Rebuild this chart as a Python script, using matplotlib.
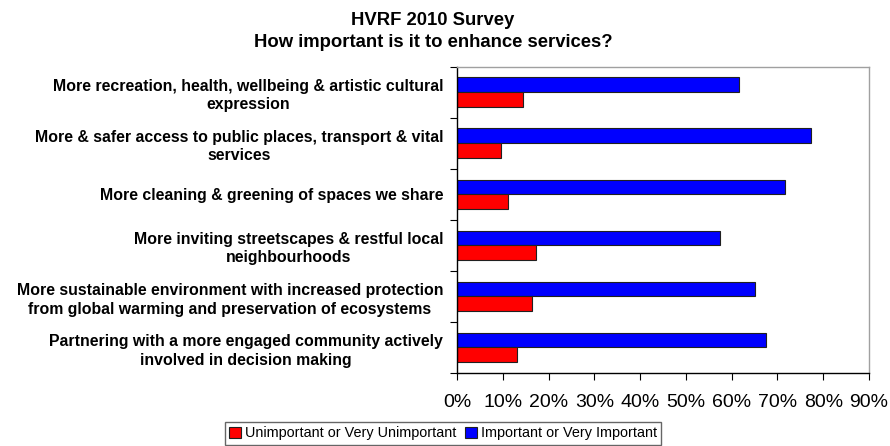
import matplotlib.pyplot as plt
import numpy as np

plt.rcParams['font.family'] = ['Liberation Sans', 'DejaVu Sans']

# survey results, top to bottom
categories = [
    "More recreation, health, wellbeing & artistic cultural\nexpression",
    "More & safer access to public places, transport & vital\nservices",
    "More cleaning & greening of spaces we share",
    "More inviting streetscapes & restful local\nneighbourhoods",
    "More sustainable environment with increased protection\nfrom global warming and preservation of ecosystems",
    "Partnering with a more engaged community actively\ninvolved in decision making",
]
important = [61.7, 77.3, 71.6, 57.5, 65.1, 67.5]
unimportant = [14.4, 9.5, 11.1, 17.3, 16.4, 13.1]
xticks = [0, 10, 20, 30, 40, 50, 60, 70, 80, 90]

fig = plt.figure(figsize=(8.9, 4.46), dpi=100)
ax = fig.add_axes([0.5135, 0.1637, 0.4629, 0.6868])

y = np.arange(len(categories))
h = 0.29
ax.barh(y - h / 2, important, height=h, color='#0000ff', edgecolor='#202020',
        linewidth=0.8, label='Important or Very Important')
ax.barh(y + h / 2, unimportant, height=h, color='#ff0000', edgecolor='#202020',
        linewidth=0.8, label='Unimportant or Very Unimportant')

ax.set_ylim(len(categories) - 0.5, -0.5)
ax.set_xlim(0, 90)

ax.set_yticks(y)
ax.set_yticklabels(categories, fontsize=11.4, fontweight='bold',
                   multialignment='center', linespacing=1.3)
ax.set_yticks(np.arange(len(categories) + 1) - 0.5, minor=True)
ax.tick_params(axis='y', which='major', length=0, pad=10)
ax.tick_params(axis='y', which='minor', length=5, width=0.8, direction='out')

ax.set_xticks(xticks)
ax.set_xticklabels([f"{v}%" for v in xticks], fontsize=14)
ax.tick_params(axis='x', length=5, width=0.8, direction='out', pad=10)

ax.spines['left'].set_color('black')
ax.spines['bottom'].set_color('black')
ax.spines['top'].set_color('#a0a0a0')
ax.spines['right'].set_color('#a0a0a0')
for s in ax.spines.values():
    s.set_linewidth(1.0)

fig.text(0.4865, 0.929, "HVRF 2010 Survey\nHow important is it to enhance services?",
         ha='center', va='center', fontsize=13.3, fontweight='bold', linespacing=1.35)

handles, labels = ax.get_legend_handles_labels()
leg = fig.legend(handles[::-1], labels[::-1], loc='upper center',
                 bbox_to_anchor=(443 / 890, 1 - 422 / 446), ncol=2, fontsize=10.4,
                 frameon=True, fancybox=False, handlelength=0.8, handleheight=0.8,
                 handletextpad=0.3, columnspacing=0.6, borderpad=0.3,
                 borderaxespad=0)
leg.get_frame().set_edgecolor('#404040')
leg.get_frame().set_linewidth(1.0)

plt.savefig('out.png', dpi=100)
